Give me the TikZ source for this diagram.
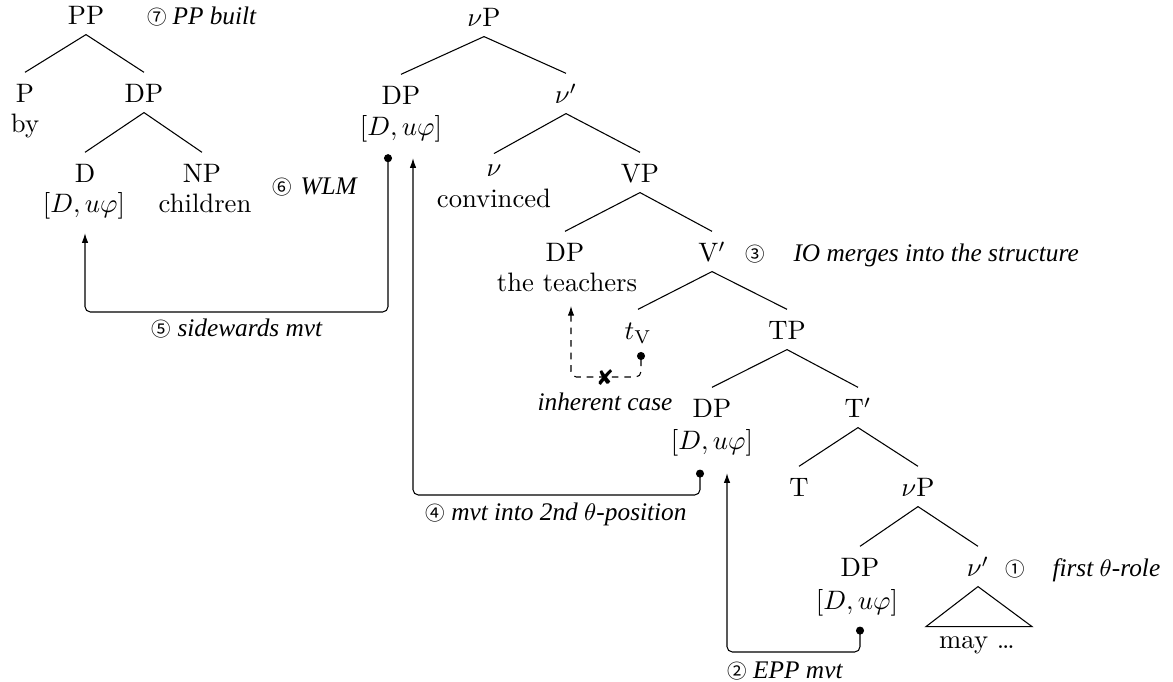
\documentclass[tikz,border=0pt]{standalone}
\usepackage{fontspec}
\newfontfamily\circfont{Noto Sans CJK SC}
\newfontfamily\notefont{Liberation Serif}
\usetikzlibrary{arrows.meta,calc}
\newcommand{\cnum}[1]{{\fontsize{7.3}{9}\circfont #1}}
\newcommand{\feat}{$[D,u\varphi]$}

\begin{document}
\begin{tikzpicture}[x=0.375pt,y=-0.375pt,
  font=\fontsize{10}{12}\selectfont,
  cat/.style={anchor=base, inner xsep=0pt, inner ysep=3.4pt, text height=7.9pt, text depth=0pt},
  txt/.style={anchor=base, inner sep=0pt},
  note/.style={anchor=base west, inner sep=0pt, font=\fontsize{9.5}{12}\notefont\itshape},
  num/.style={anchor=base west, inner sep=0pt, font=\fontsize{7.3}{9}\circfont},
  br/.style={line width=0.4pt},
  mv/.style={line width=0.4pt, rounded corners=2pt,
    {Circle[length=3pt]}-{Latex[length=3.6pt,width=2.4pt]}},
]
\path[use as bounding box] (0,0) rectangle (1173,682);

% ---- PP tree ----
\node[cat] (pp) at (86,25) {PP};
\node[cat] (p) at (25,103) {P};
\node[txt] (by) at (25,133) {by};
\node[cat] (pdp) at (144,103) {DP};
\node[cat] (d) at (85,183) {D};
\node[txt] (df) at (84,213) {\feat};
\node[cat] (np) at (202,183) {NP};
\node[txt] (ch) at (205,213) {children};
\draw[br] (pp.south) -- (p.north);
\draw[br] (pp.south) -- (pdp.north);
\draw[br] (pdp.south) -- (d.north);
\draw[br] (pdp.south) -- (np.north);

% ---- vP tree ----
\node[cat] (nvp) at (484,27) {$\nu$P};
\node[cat] (vdp) at (401,105) {DP};
\node[txt] (vdpf) at (401,136) {\feat};
\node[cat] (vbar) at (566,104) {$\nu'$};
\node[cat, text height=5.2pt] (v) at (494,177) {$\nu$};
\node[txt] (conv) at (494,208) {convinced};
\node[cat] (bvp) at (640,183) {VP};
\node[cat] (iodp) at (565,262) {DP};
\node[txt] (teach) at (567,292) {the teachers};
\node[cat] (vbar2) at (712,262) {V$'$};
\node[cat] (tv) at (638,340) {$t_{\mathrm{V}}$};
\node[cat] (tp) at (787,340) {TP};
\node[cat] (sdp) at (712,418) {DP};
\node[txt] (sdpf) at (712,450) {\feat};
\node[cat] (tbar) at (858,418) {T$'$};
\node[cat] (t) at (799,497) {T};
\node[cat] (nvp2) at (918,497) {$\nu$P};
\node[cat] (ldp) at (860,577) {DP};
\node[txt] (ldpf) at (857,610) {\feat};
\node[cat] (nbar2) at (978,577) {$\nu'$};
\node[txt] (may) at (977,649) {may \ldots};

\draw[br] (nvp.south) -- (vdp.north);
\draw[br] (nvp.south) -- (vbar.north);
\draw[br] (vbar.south) -- (v.north);
\draw[br] (vbar.south) -- (bvp.north);
\draw[br] (bvp.south) -- (iodp.north);
\draw[br] (bvp.south) -- (vbar2.north);
\draw[br] (vbar2.south) -- (tv.north);
\draw[br] (vbar2.south) -- (tp.north);
\draw[br] (tp.south) -- (sdp.north);
\draw[br] (tp.south) -- (tbar.north);
\draw[br] (tbar.south) -- (t.north);
\draw[br] (tbar.south) -- (nvp2.north);
\draw[br] (nvp2.south) -- (ldp.north);
\draw[br] (nvp2.south) -- (nbar2.north);
\draw[br] (nbar2.south) -- +(-52,40) -- +(54,40) -- cycle;

% ---- movement arrows ----
\coordinate (a5) at ($(vdpf.south)+(-13,11)$);
\coordinate (b5) at ($(df.south)+(1,13)$);
\coordinate (h5) at (0,312);
\draw[mv] (a5) -- (a5 |- h5) -| (b5);

\coordinate (a4) at ($(sdpf.south)+(-12,12.4)$);
\coordinate (b4) at ($(vdpf.south)+(12,15)$);
\coordinate (h4) at (0,495);
\draw[mv] (a4) -- (a4 |- h4) -| (b4);

\coordinate (a2) at ($(ldpf.south)+(3,9.4)$);
\coordinate (b2) at ($(sdpf.south)+(15,16)$);
\coordinate (h2) at (0,652);
\draw[mv] (a2) -- (a2 |- h2) -| (b2);

\coordinate (ax) at ($(tv.base)+(3,12)$);
\coordinate (bx) at ($(teach.base)+(4,14)$);
\coordinate (hx) at (0,377);
\draw[mv, dash pattern=on 2.5pt off 2.2pt] (ax) -- (ax |- hx) -| (bx);
\node[inner sep=0pt, font=\fontsize{8}{8}\fontspec{DejaVu Sans}] (xm) at (605,378) {✘};

% ---- annotations ----
\node[num] (n7) at (147,25) {⑦};
\node[note] (l7) at (172,25) {PP built};
\node[num] (n6) at (272,195) {⑥};
\node[note] (l6) at (300,195) {WLM};
\node[num] (n3) at (745,262) {③};
\node[note] (l3) at (793,262) {IO merges into the structure};
\node[num] (n1) at (1005,577) {①};
\node[note] (l1) at (1052,577) {first $\theta$-role};
\node[note, anchor=base] (l5) at (237,337) {\cnum{⑤} sidewards mvt};
\node[note, anchor=base] (l4) at (556,521) {\cnum{④} mvt into 2nd $\theta$-position};
\node[note, anchor=base] (l2) at (785,679) {\cnum{②} EPP mvt};
\node[note, anchor=base] (lic) at (605,411) {inherent case};
\end{tikzpicture}
\end{document}
